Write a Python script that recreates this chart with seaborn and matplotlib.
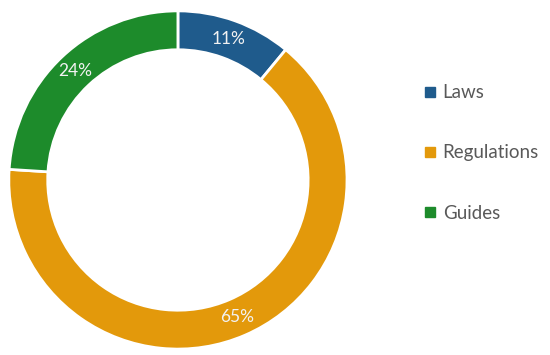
import matplotlib
matplotlib.use("Agg")
import matplotlib.pyplot as plt
from matplotlib.lines import Line2D
import seaborn as sns

categories = ["Laws", "Regulations", "Guides"]
shares = [11, 65, 24]
colors = ["#1f5b8c", "#e3990b", "#1d8b2b"]

sns.set_theme(style="white")
plt.rcParams['font.family'] = ['Lato', 'DejaVu Sans']

fig = plt.figure(figsize=(5.5, 3.55), dpi=100)
ax = fig.add_axes([0.0145, 0.014, 0.618, 0.958])

wedges, texts, autotexts = ax.pie(
    shares, colors=colors, startangle=90, counterclock=False,
    autopct=lambda p: f"{p:.0f}%", pctdistance=0.885,
    wedgeprops=dict(width=0.23, edgecolor="white", linewidth=2),
    textprops=dict(color="#f2f2f2", fontsize=12.5),
)
ax.set_xlim(-1.005, 1.005)
ax.set_ylim(-1.005, 1.005)
ax.set_aspect("equal")

handles = [Line2D([], [], marker="s", linestyle="", markersize=6.5,
                  markerfacecolor=c, markeredgecolor=c) for c in colors]
fig.legend(handles, categories, loc="upper left", bbox_to_anchor=(0.74, 0.81),
           frameon=False, fontsize=13.5, labelspacing=2.3, handletextpad=0.3,
           handlelength=0.7, labelcolor="#595959")

fig.savefig("out.png", dpi=100)
